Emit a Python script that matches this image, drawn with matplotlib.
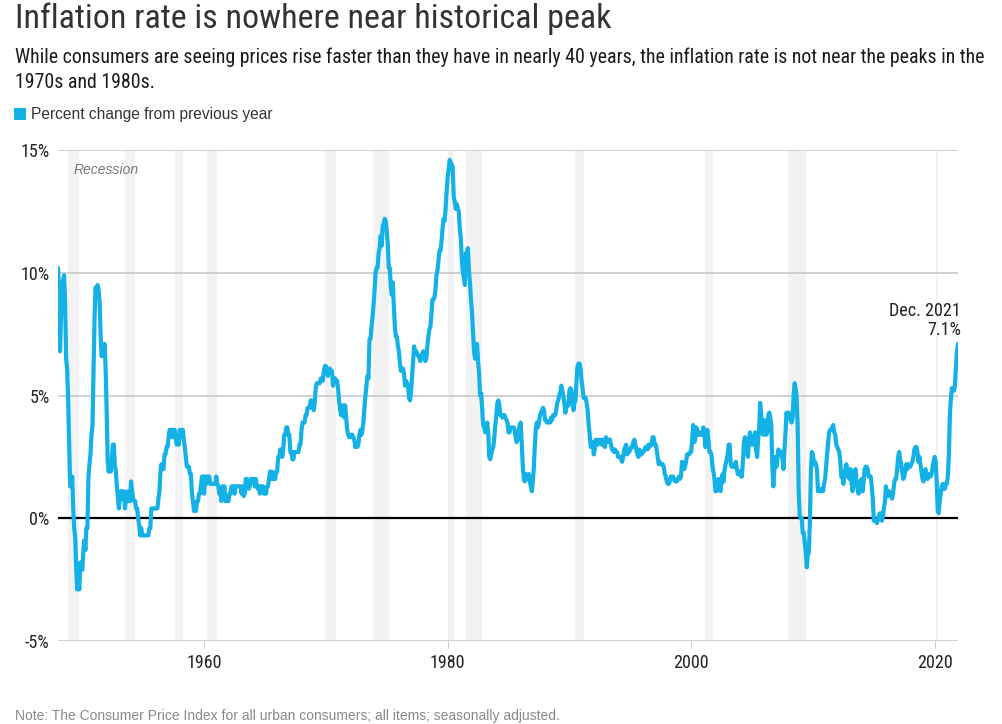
import numpy as np
import matplotlib
matplotlib.use("Agg")
import matplotlib.pyplot as plt
from matplotlib.patches import Rectangle
from matplotlib import font_manager

# ---- data: CPI percent change from previous year, monthly, Jan 1948 - Dec 2021 ----
cpi_1940s = [
    10.2, 9.4, 6.8, 8.2, 9.4, 9.7, 9.9, 8.9, 6.5, 6.1, 4.8, 3.0,   # 1948
    1.3, 1.3, 1.7, 0.4, -0.4, -0.8, -2.1, -2.9, -2.4, -2.9, -1.8, -2.1,  # 1949
]
cpi_1950s = [
    -2.1, -1.3, -0.9, -1.3, -0.4, -0.4, 1.7, 2.2, 2.6, 3.4, 3.8, 5.9,
    8.1, 9.4, 9.3, 9.5, 9.3, 8.8, 7.5, 6.6, 6.9, 6.9, 7.1, 6.0,
    4.3, 2.3, 1.9, 2.3, 1.9, 2.3, 3.0, 3.0, 2.2, 1.9, 1.3, 0.9,
    0.4, 0.8, 1.1, 0.8, 1.1, 1.1, 0.4, 0.8, 0.7, 1.1, 0.7, 0.7,
    1.5, 1.1, 0.8, 0.7, 0.7, 0.4, 0.4, 0.0, -0.3, -0.7, -0.4, -0.7,
    -0.7, -0.7, -0.7, -0.7, -0.7, -0.7, -0.4, -0.4, 0.4, 0.4, 0.4, 0.4,
    0.4, 0.4, 0.4, 0.8, 1.1, 1.9, 2.2, 2.0, 2.0, 2.6, 2.6, 2.9,
    2.9, 3.3, 3.6, 3.6, 3.6, 3.3, 3.6, 3.6, 3.3, 3.0, 3.3, 3.0,
    3.6, 3.3, 3.6, 3.6, 3.2, 2.9, 2.5, 2.1, 2.1, 2.1, 1.8, 1.8,
    1.0, 0.7, 0.3, 0.3, 0.3, 0.7, 0.7, 1.0, 1.0, 1.4, 1.7, 1.7,
]
cpi_1960s = [
    1.0, 1.7, 1.4, 1.7, 1.7, 1.7, 1.4, 1.4, 1.4, 1.4, 1.4, 1.4,
    1.7, 1.4, 1.3, 1.0, 1.0, 0.7, 1.3, 1.0, 1.3, 0.7, 0.7, 0.7,
    0.7, 1.0, 1.0, 1.3, 1.3, 1.3, 1.0, 1.3, 1.3, 1.3, 1.3, 1.3,
    1.3, 1.0, 1.3, 0.9, 1.0, 1.6, 1.6, 1.3, 1.2, 1.3, 1.6, 1.6,
    1.6, 1.6, 1.3, 1.6, 1.3, 1.2, 1.3, 1.0, 1.3, 1.3, 1.3, 1.0,
    1.0, 1.0, 1.3, 1.3, 1.6, 1.9, 1.6, 1.9, 1.6, 1.6, 1.6, 1.9,
    1.9, 2.5, 2.5, 2.8, 2.8, 2.5, 2.8, 3.4, 3.4, 3.7, 3.7, 3.4,
    3.4, 2.7, 2.7, 2.4, 2.4, 2.7, 2.7, 2.7, 2.7, 2.7, 3.0, 3.0,
    3.6, 3.9, 3.9, 3.9, 4.2, 4.2, 4.5, 4.5, 4.5, 4.8, 4.8, 4.7,
    4.4, 4.7, 5.3, 5.5, 5.5, 5.5, 5.5, 5.7, 5.6, 5.6, 6.0, 6.2,
]
cpi_1970s = [
    6.2, 6.1, 5.8, 6.0, 6.1, 6.0, 6.0, 5.4, 5.7, 5.7, 5.6, 5.6,
    5.3, 4.8, 4.4, 4.2, 4.4, 4.6, 4.1, 4.6, 4.1, 3.6, 3.4, 3.3,
    3.3, 3.4, 3.4, 3.3, 3.2, 2.9, 3.0, 2.9, 3.0, 3.4, 3.6, 3.4,
    3.6, 3.9, 4.5, 5.0, 5.4, 5.8, 5.7, 7.3, 7.3, 7.8, 8.2, 8.7,
    9.3, 10.0, 10.2, 10.2, 10.8, 11.0, 11.5, 11.1, 11.9, 12.0, 12.2, 12.1,
    11.7, 11.2, 10.2, 10.2, 9.4, 9.1, 9.6, 8.6, 7.8, 7.4, 7.4, 7.0,
    6.8, 6.3, 6.0, 6.0, 6.1, 5.9, 5.4, 5.6, 5.5, 5.4, 4.9, 4.8,
    5.2, 5.8, 6.4, 7.0, 6.7, 6.8, 6.7, 6.6, 6.6, 6.4, 6.6, 6.7,
    6.8, 6.5, 6.4, 6.5, 7.0, 7.4, 7.7, 7.8, 8.3, 8.9, 8.9, 9.0,
    9.3, 9.9, 10.1, 10.5, 10.9, 10.9, 11.3, 11.8, 12.2, 12.1, 12.6, 13.3,
]
cpi_1980s = [
    13.9, 14.2, 14.6, 14.5, 14.4, 14.3, 13.1, 12.9, 12.6, 12.8, 12.6, 12.5,
    11.8, 11.4, 10.5, 10.0, 9.8, 9.5, 10.8, 10.8, 11.0, 10.1, 9.6, 8.9,
    8.4, 7.6, 6.8, 6.5, 6.7, 7.1, 6.4, 5.9, 5.0, 5.1, 4.5, 3.8,
    3.7, 3.5, 3.6, 3.9, 3.5, 2.5, 2.4, 2.6, 2.8, 2.9, 3.3, 3.8,
    4.2, 4.7, 4.8, 4.6, 4.2, 4.2, 4.1, 4.2, 4.2, 4.1, 4.0, 3.9,
    3.5, 3.5, 3.7, 3.7, 3.7, 3.7, 3.6, 3.3, 3.1, 3.2, 3.5, 3.8,
    3.9, 3.1, 2.2, 1.6, 1.5, 1.8, 1.6, 1.6, 1.8, 1.5, 1.3, 1.1,
    1.5, 2.1, 3.0, 3.7, 3.9, 3.7, 3.9, 4.2, 4.3, 4.4, 4.5, 4.4,
    4.0, 4.0, 3.9, 3.9, 3.9, 3.9, 4.1, 4.0, 4.2, 4.2, 4.2, 4.4,
    4.7, 4.8, 5.0, 5.1, 5.4, 5.2, 5.0, 4.7, 4.3, 4.5, 4.6, 4.6,
]
cpi_1990s = [
    5.2, 5.3, 5.2, 4.7, 4.4, 4.7, 4.8, 5.6, 6.2, 6.3, 6.3, 6.1,
    5.6, 5.3, 4.9, 4.9, 4.9, 4.7, 4.4, 3.8, 3.4, 2.9, 3.0, 3.1,
    2.6, 2.8, 3.2, 3.2, 3.0, 3.1, 3.2, 3.1, 3.0, 3.2, 3.0, 2.9,
    3.3, 3.2, 3.1, 3.2, 3.2, 3.0, 2.8, 2.8, 2.7, 2.8, 2.7, 2.7,
    2.5, 2.5, 2.5, 2.4, 2.3, 2.5, 2.8, 2.9, 3.0, 2.6, 2.7, 2.7,
    2.8, 2.9, 2.9, 3.1, 3.2, 3.0, 2.8, 2.6, 2.5, 2.8, 2.6, 2.6,
    2.7, 2.7, 2.8, 2.9, 2.9, 2.8, 3.0, 2.9, 3.0, 3.0, 3.3, 3.3,
    3.0, 3.0, 2.8, 2.5, 2.2, 2.3, 2.2, 2.2, 2.2, 2.1, 1.8, 1.7,
    1.5, 1.4, 1.4, 1.5, 1.7, 1.7, 1.7, 1.6, 1.5, 1.5, 1.5, 1.6,
    1.7, 1.6, 1.7, 2.3, 2.1, 2.0, 2.1, 2.3, 2.6, 2.6, 2.6, 2.7,
]
cpi_2000s = [
    2.7, 3.2, 3.8, 3.1, 3.2, 3.7, 3.6, 3.4, 3.5, 3.4, 3.4, 3.4,
    3.7, 3.5, 2.9, 3.3, 3.6, 3.2, 2.7, 2.7, 2.6, 2.1, 1.9, 1.6,
    1.1, 1.1, 1.5, 1.6, 1.2, 1.1, 1.5, 1.8, 1.5, 2.0, 2.2, 2.4,
    2.6, 3.0, 3.0, 2.2, 2.1, 2.1, 2.1, 2.2, 2.3, 2.0, 1.8, 1.9,
    1.9, 1.7, 1.7, 2.3, 3.1, 3.3, 3.0, 2.7, 2.5, 3.2, 3.5, 3.3,
    3.0, 3.0, 3.1, 3.5, 2.8, 2.5, 3.2, 3.6, 4.7, 4.3, 3.5, 3.4,
    4.0, 3.6, 3.4, 3.5, 4.2, 4.3, 4.1, 3.8, 2.1, 1.3, 2.0, 2.5,
    2.1, 2.4, 2.8, 2.6, 2.7, 2.7, 2.4, 2.0, 2.8, 3.5, 4.3, 4.1,
    4.3, 4.1, 4.0, 3.9, 4.1, 5.0, 5.5, 5.3, 4.9, 3.7, 1.1, 0.1,
    0.0, 0.0, -0.6, -0.6, -1.0, -1.4, -2.0, -1.5, -1.4, -0.2, 1.9, 2.7,
]
cpi_2010s = [
    2.6, 2.2, 2.3, 2.2, 2.0, 1.1, 1.2, 1.1, 1.1, 1.2, 1.1, 1.4,
    1.6, 2.1, 2.6, 3.1, 3.5, 3.6, 3.6, 3.7, 3.8, 3.5, 3.4, 3.0,
    2.9, 2.8, 2.7, 2.3, 1.7, 1.7, 1.4, 1.7, 2.0, 2.2, 1.8, 1.7,
    1.6, 2.0, 1.5, 1.1, 1.4, 1.8, 2.0, 1.5, 1.2, 1.0, 1.2, 1.5,
    1.6, 1.1, 1.5, 2.0, 2.1, 2.1, 2.0, 1.7, 1.7, 1.7, 1.3, 0.8,
    -0.1, -0.1, -0.1, -0.2, -0.1, 0.1, 0.2, 0.2, -0.1, 0.1, 0.4, 0.7,
    1.3, 0.9, 0.9, 1.1, 1.0, 1.0, 0.8, 1.0, 1.4, 1.6, 1.6, 2.0,
    2.5, 2.7, 2.4, 2.2, 1.9, 1.6, 1.7, 1.9, 2.2, 2.0, 2.2, 2.1,
    2.1, 2.2, 2.3, 2.5, 2.8, 2.9, 2.9, 2.7, 2.3, 2.5, 2.2, 1.9,
    1.6, 1.5, 1.9, 2.0, 1.8, 1.6, 1.8, 1.7, 1.7, 1.8, 2.1, 2.3,
]
cpi_2020s = [
    2.5, 2.3, 1.5, 0.3, 0.2, 0.7, 1.0, 1.3, 1.4, 1.2, 1.2, 1.4,
    1.4, 1.7, 2.6, 4.2, 4.9, 5.3, 5.3, 5.2, 5.4, 6.2, 6.8, 7.1,
]

start_year = 1948
# NBER recessions (start, end) as decimal years
recession_starts = [1948.83, 1953.5, 1957.58, 1960.25, 1969.92, 1973.83, 1980.0, 1981.5,
                    1990.5, 2001.17, 2007.92, 2020.08]
recession_ends = [1949.75, 1954.33, 1958.25, 1961.08, 1970.83, 1975.17, 1980.5, 1982.83,
                  1991.17, 2001.83, 2009.42, 2020.25]

y_ticks = [-5, 0, 5, 10, 15]
y_tick_labels = ["-5%", "0%", "5%", "10%", "15%"]
x_ticks = [1960, 1980, 2000, 2020]

title = "Inflation rate is nowhere near historical peak"
subtitle = ("While consumers are seeing prices rise faster than they have in nearly 40 years, "
            "the inflation rate is not near the peaks in the\n1970s and 1980s.")
legend_label = "Percent change from previous year"
note = "Note: The Consumer Price Index for all urban consumers; all items; seasonally adjusted."
end_label = "Dec. 2021\n7.1%"

# ---- pick a narrow font if one exists ----
installed = {f.name for f in font_manager.fontManager.ttflist}
narrow = "Roboto"
for cand in ["Roboto Condensed", "Liberation Sans Narrow", "Open Sans Condensed",
             "Noto Sans Condensed", "DejaVu Sans Condensed"]:
    if cand in installed:
        narrow = cand
        break
is_cond = narrow != "Roboto"
COND = dict(family=narrow)

# ---- build series ----
values = np.array(cpi_1940s + cpi_1950s + cpi_1960s + cpi_1970s + cpi_1980s
                  + cpi_1990s + cpi_2000s + cpi_2010s + cpi_2020s)
t = start_year + np.arange(len(values)) / 12.0

BLUE = "#14b1e7"

W, H = 1002, 724
fig = plt.figure(figsize=(W / 100, H / 100), dpi=100)
fig.patch.set_facecolor("white")

left, right, top, bottom = 58, 958, 150, 641
ax = fig.add_axes([left / W, 1 - bottom / H, (right - left) / W, (bottom - top) / H])

ax.set_xlim(t[0], t[-1])
ax.set_ylim(-5, 15)

for s, e in zip(recession_starts, recession_ends):
    ax.axvspan(s, e, color="#f2f2f2", lw=0, zorder=0)

for yv in y_ticks:
    if yv == 0:
        ax.axhline(0, color="black", lw=1.6, zorder=2)
    else:
        ax.axhline(yv, color="#cfcfcf", lw=1.4, zorder=1)

ax.plot(t, values, color=BLUE, lw=3.0, solid_joinstyle="round", solid_capstyle="round", zorder=3)

for sp in ax.spines.values():
    sp.set_visible(False)
ax.set_yticks(y_ticks)
ax.set_yticklabels(y_tick_labels)
ax.set_xticks(x_ticks)
ax.set_xticklabels([str(x) for x in x_ticks])
tick_size = 13 if is_cond else 11.5
ax.tick_params(axis="y", length=0, pad=6, labelsize=tick_size, labelcolor="#222222")
ax.tick_params(axis="x", length=5, width=0.8, color="#cccccc", pad=4, labelsize=tick_size,
               labelcolor="#222222")
for lab in ax.get_xticklabels() + ax.get_yticklabels():
    lab.set_fontfamily(narrow)

ax.text(1949.3, 14.2, "Recession", fontsize=10, style="italic", color="#777777",
        family="Liberation Sans", va="center", ha="left")

ax.annotate(end_label, xy=(t[-1], values[-1]), xytext=(t[-1] + 0.25, values[-1] + 0.2),
            ha="right", va="bottom", fontsize=13 if is_cond else 11.5, color="#222222",
            linespacing=1.1, **COND)

# ---- header ----
fig.text(15 / W, 1 - 19 / H, title, fontsize=24.5 if is_cond else 22, color="#333333",
         va="center", ha="left", **COND)
fig.text(15 / W, 1 - 70 / H, subtitle, fontsize=14.3 if is_cond else 11.8, color="#1a1a1a",
         va="center", ha="left", weight="normal", linespacing=1.4, **COND)
fig.patches.append(Rectangle((14 / W, 1 - 120 / H), 12 / W, 12 / H, transform=fig.transFigure,
                             facecolor=BLUE, edgecolor="none"))
fig.text(31 / W, 1 - 114 / H, legend_label, fontsize=11.2, color="#333333", va="center",
         ha="left", family="Liberation Sans")
fig.text(15 / W, 1 - 716 / H, note, fontsize=10, color="#888888", va="center", ha="left",
         family="Liberation Sans")

fig.savefig("out.png", dpi=100, facecolor="white")
